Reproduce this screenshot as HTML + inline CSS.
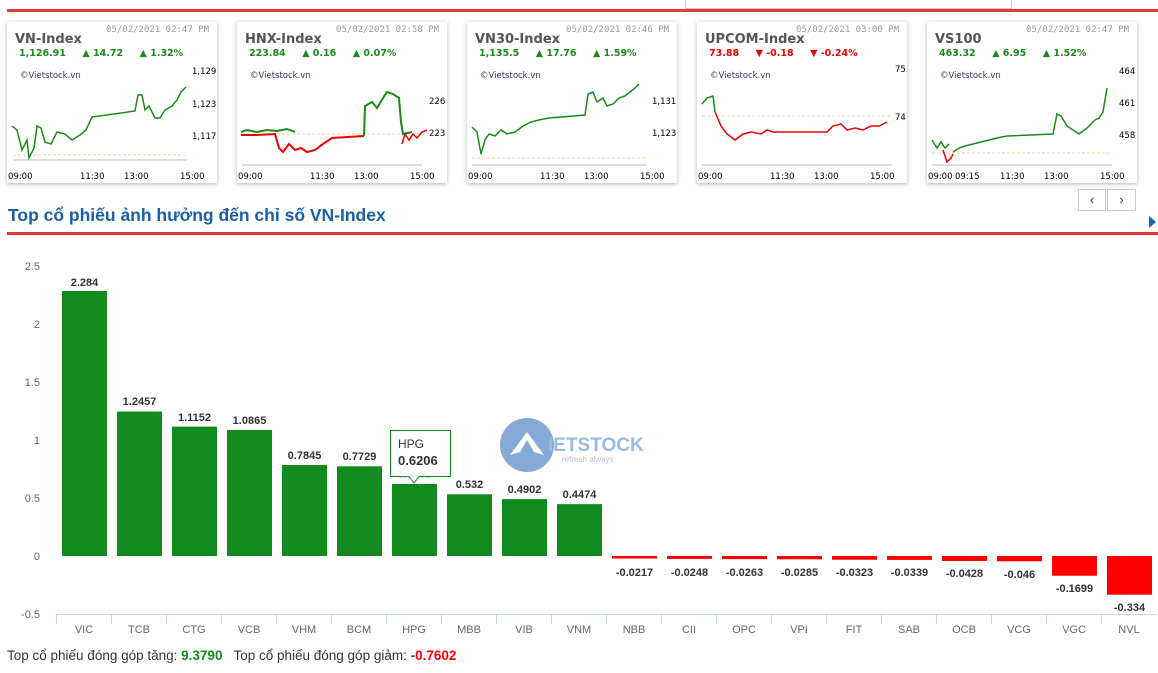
<!DOCTYPE html>
<html><head><meta charset="utf-8"><style>
body{margin:0;width:1158px;height:673px;overflow:hidden;background:#fff;font-family:"Liberation Sans",sans-serif;position:relative}
.card{position:absolute;top:22px;width:210px;height:161px;background:#fff;box-shadow:0 1px 4px rgba(0,0,0,.3)}
.card .d{position:absolute;right:8px;top:3px;font-family:"DejaVu Sans Mono","Liberation Mono",monospace;font-size:9px;color:#999}
.card .t{position:absolute;left:8px;top:10px;font-family:"DejaVu Sans",sans-serif;font-weight:bold;font-size:13px;color:#555}
.card .v{position:absolute;left:12px;top:26px;font-family:"DejaVu Sans",sans-serif;font-weight:bold;font-size:9.5px;color:#1a8a1a;white-space:pre}
.card .v.r{color:#e00}
.card svg{position:absolute;left:0;top:0}
</style></head><body>
<div style="position:absolute;left:7px;top:9px;width:1151px;height:3px;background:#e53935"></div>
<div style="position:absolute;left:685px;top:0;width:325px;height:8px;border:1px solid #ccc;border-top:none"></div>

<div class="card" style="left:7px"><div class="d">05/02/2021 02:47 PM</div><div class="t">VN-Index</div><div class="v">1,126.91     ▲ 14.72     ▲ 1.32%</div>
<svg width="210" height="161" font-family="DejaVu Sans" font-size="8.5"><text x="13" y="56" fill="#336">©Vietstock.vn</text>
<line x1="6" y1="138" x2="180" y2="138" stroke="#bbb"/><line x1="6" y1="138" x2="178" y2="138" stroke="#fc9" stroke-dasharray="3,2" transform="translate(0,-5)"/>
<polyline fill="none" stroke="#1a8a1a" stroke-width="1.5" points="5,104 10,108 15,128 20,118 22,136 27,126 30,104 34,106 38,120 44,122 50,110 58,112 65,118 73,113 79,108 85,95 128,89 131,73 135,73 138,88 142,84 148,96 153,96 158,88 165,84 170,78 174,70 179,65"/>
<text x="185" y="52">1,129</text><text x="185" y="85">1,123</text><text x="185" y="117">1,117</text>
<text x="1" y="157">09:00</text><text x="73" y="157">11:30</text><text x="117" y="157">13:00</text><text x="173" y="157">15:00</text></svg></div>

<div class="card" style="left:237px"><div class="d">05/02/2021 02:58 PM</div><div class="t">HNX-Index</div><div class="v">223.84     ▲ 0.16     ▲ 0.07%</div>
<svg width="210" height="161" font-family="DejaVu Sans" font-size="8.5"><text x="13" y="56" fill="#336">©Vietstock.vn</text>
<line x1="5" y1="143" x2="185" y2="143" stroke="#bbb"/><line x1="5" y1="112" x2="185" y2="112" stroke="#fc9" stroke-dasharray="3,2"/>
<polyline fill="none" stroke="#1a8a1a" stroke-width="2" points="4,110 10,108 20,110 30,108 40,109 50,107 58,110"/>
<polyline fill="none" stroke="#e00" stroke-width="2" points="4,113 20,113 38,112 42,126 46,130 52,122 58,128 64,126 70,130 78,128 86,122 92,118 95,116 127,114"/>
<polyline fill="none" stroke="#1a8a1a" stroke-width="2" points="127,114 128,84 135,80 140,86 146,76 150,70 156,72 162,76 164,100 166,112 175,110"/>
<polyline fill="none" stroke="#e00" stroke-width="1.5" points="165,122 168,112 172,118 176,112 180,116 185,110 190,108"/>
<text x="192" y="82">226</text><text x="192" y="114">223</text>
<text x="1" y="157">09:00</text><text x="73" y="157">11:30</text><text x="117" y="157">13:00</text><text x="173" y="157">15:00</text></svg></div>

<div class="card" style="left:467px"><div class="d">05/02/2021 02:46 PM</div><div class="t">VN30-Index</div><div class="v">1,135.5     ▲ 17.76     ▲ 1.59%</div>
<svg width="210" height="161" font-family="DejaVu Sans" font-size="8.5"><text x="13" y="56" fill="#336">©Vietstock.vn</text>
<line x1="5" y1="143" x2="180" y2="143" stroke="#bbb"/><line x1="5" y1="136" x2="178" y2="136" stroke="#fc9" stroke-dasharray="3,2"/>
<polyline fill="none" stroke="#1a8a1a" stroke-width="1.5" points="5,105 10,110 14,132 18,118 22,112 28,114 34,108 40,112 48,110 56,104 64,100 72,98 82,96 118,93 121,72 126,70 130,80 136,76 140,84 146,82 152,76 158,74 163,70 168,66 172,62"/>
<text x="185" y="82">1,131</text><text x="185" y="114">1,123</text>
<text x="1" y="157">09:00</text><text x="73" y="157">11:30</text><text x="117" y="157">13:00</text><text x="173" y="157">15:00</text></svg></div>

<div class="card" style="left:697px"><div class="d">05/02/2021 03:00 PM</div><div class="t">UPCOM-Index</div><div class="v r">73.88     ▼ -0.18     ▼ -0.24%</div>
<svg width="210" height="161" font-family="DejaVu Sans" font-size="8.5"><text x="13" y="56" fill="#336">©Vietstock.vn</text>
<line x1="5" y1="143" x2="195" y2="143" stroke="#bbb"/><line x1="5" y1="94" x2="195" y2="94" stroke="#fc9" stroke-dasharray="3,2"/>
<polyline fill="none" stroke="#1a8a1a" stroke-width="1.5" points="5,82 10,76 16,74 18,90"/>
<polyline fill="none" stroke="#e00" stroke-width="1.5" points="18,90 24,104 30,112 38,118 46,112 54,110 64,112 70,108 76,110 130,110 136,104 144,102 150,108 158,106 166,108 174,104 182,104 190,100"/>
<text x="198" y="50">75</text><text x="198" y="98">74</text>
<text x="1" y="157">09:00</text><text x="73" y="157">11:30</text><text x="117" y="157">13:00</text><text x="173" y="157">15:00</text></svg></div>

<div class="card" style="left:927px"><div class="d">05/02/2021 02:47 PM</div><div class="t">VS100</div><div class="v">463.32     ▲ 6.95     ▲ 1.52%</div>
<svg width="210" height="161" font-family="DejaVu Sans" font-size="8.5"><text x="13" y="56" fill="#336">©Vietstock.vn</text>
<line x1="5" y1="143" x2="185" y2="143" stroke="#bbb"/><line x1="5" y1="131" x2="182" y2="131" stroke="#fc9" stroke-dasharray="3,2"/>
<polyline fill="none" stroke="#1a8a1a" stroke-width="1.5" points="5,118 10,126 14,120 18,126 22,122"/>
<polyline fill="none" stroke="#e00" stroke-width="1.5" points="16,128 20,140 24,136 26,132"/>
<polyline fill="none" stroke="#1a8a1a" stroke-width="1.5" points="26,130 32,126 38,124 46,122 54,120 62,118 70,116 80,114 126,112 130,92 134,94 140,104 146,108 152,112 160,106 168,98 172,96 176,90 180,66"/>
<text x="192" y="52">464</text><text x="192" y="84">461</text><text x="192" y="116">458</text>
<text x="1" y="157">09:00</text><text x="28" y="157">09:15</text><text x="73" y="157">11:30</text><text x="117" y="157">13:00</text><text x="173" y="157">15:00</text></svg></div>

<div style="position:absolute;left:1078px;top:189px;width:28px;height:22px;border:1px solid #ccc;box-sizing:border-box;text-align:center;line-height:20px;font-size:13px;color:#333">‹</div>
<div style="position:absolute;left:1107px;top:189px;width:29px;height:22px;border:1px solid #ccc;box-sizing:border-box;text-align:center;line-height:20px;font-size:13px;color:#333">›</div>
<div style="position:absolute;left:1149px;top:216px;width:0;height:0;border-top:6px solid transparent;border-bottom:6px solid transparent;border-left:7px solid #1565c0"></div>
<div style="position:absolute;left:8px;top:205px;font-size:17.5px;font-weight:bold;color:#1b5ea8">Top cổ phiếu ảnh hưởng đến chỉ số VN-Index</div>
<div style="position:absolute;left:7px;top:232px;width:1151px;height:3px;background:#e53935"></div>

<svg style="position:absolute;left:0;top:0" width="1158" height="673" font-family="Liberation Sans,sans-serif">
<g fill="#666" font-size="11" text-anchor="end">
<text x="40" y="270">2.5</text><text x="40" y="328">2</text><text x="40" y="386">1.5</text><text x="40" y="444">1</text><text x="40" y="502">0.5</text><text x="40" y="560">0</text><text x="40" y="618">-0.5</text></g>
<line x1="56" y1="614.5" x2="1156" y2="614.5" stroke="#ccd6eb"/>
<g stroke="#ccd6eb">
<line x1="56.5" y1="614" x2="56.5" y2="624"/><line x1="111.5" y1="614" x2="111.5" y2="624"/><line x1="166.5" y1="614" x2="166.5" y2="624"/><line x1="221.5" y1="614" x2="221.5" y2="624"/><line x1="276.5" y1="614" x2="276.5" y2="624"/><line x1="331.5" y1="614" x2="331.5" y2="624"/><line x1="386.5" y1="614" x2="386.5" y2="624"/><line x1="441.5" y1="614" x2="441.5" y2="624"/><line x1="496.5" y1="614" x2="496.5" y2="624"/><line x1="551.5" y1="614" x2="551.5" y2="624"/><line x1="606.5" y1="614" x2="606.5" y2="624"/><line x1="661.5" y1="614" x2="661.5" y2="624"/><line x1="716.5" y1="614" x2="716.5" y2="624"/><line x1="771.5" y1="614" x2="771.5" y2="624"/><line x1="826.5" y1="614" x2="826.5" y2="624"/><line x1="881.5" y1="614" x2="881.5" y2="624"/><line x1="936.5" y1="614" x2="936.5" y2="624"/><line x1="991.5" y1="614" x2="991.5" y2="624"/><line x1="1046.5" y1="614" x2="1046.5" y2="624"/><line x1="1101.5" y1="614" x2="1101.5" y2="624"/></g>
<g fill="#128a1e">
<rect x="62" y="291" width="45" height="265"/><rect x="117" y="411.5" width="45" height="144.5"/><rect x="172" y="426.6" width="45" height="129.4"/><rect x="227" y="430" width="45" height="126"/><rect x="282" y="465" width="45" height="91"/><rect x="337" y="466.3" width="45" height="89.7"/><rect x="392" y="484" width="45" height="72"/><rect x="447" y="494.3" width="45" height="61.7"/><rect x="502" y="499.1" width="45" height="56.9"/><rect x="557" y="504.1" width="45" height="51.9"/></g>
<g fill="#f00">
<rect x="612" y="556" width="45" height="2.5"/><rect x="667" y="556" width="45" height="2.9"/><rect x="722" y="556" width="45" height="3.1"/><rect x="777" y="556" width="45" height="3.3"/><rect x="832" y="556" width="45" height="3.7"/><rect x="887" y="556" width="45" height="3.9"/><rect x="942" y="556" width="45" height="5"/><rect x="997" y="556" width="45" height="5.3"/><rect x="1052" y="556" width="45" height="19.7"/><rect x="1107" y="556" width="45" height="38.7"/></g>
<g font-size="11" font-weight="bold" fill="#333" text-anchor="middle">
<text x="84.5" y="286">2.284</text><text x="139.5" y="405">1.2457</text><text x="194.5" y="421">1.1152</text><text x="249.5" y="424">1.0865</text><text x="304.5" y="459">0.7845</text><text x="359.5" y="460">0.7729</text><text x="414.5" y="478" fill="#ccc">0.6206</text><text x="469.5" y="488">0.532</text><text x="524.5" y="493">0.4902</text><text x="579.5" y="498">0.4474</text>
<text x="634.5" y="576">-0.0217</text><text x="689.5" y="576">-0.0248</text><text x="744.5" y="576">-0.0263</text><text x="799.5" y="576">-0.0285</text><text x="854.5" y="576">-0.0323</text><text x="909.5" y="576">-0.0339</text><text x="964.5" y="577">-0.0428</text><text x="1019.5" y="578">-0.046</text><text x="1074.5" y="592">-0.1699</text><text x="1129.5" y="611">-0.334</text></g>
<g font-size="11" fill="#666" text-anchor="middle">
<text x="84" y="633">VIC</text><text x="139" y="633">TCB</text><text x="194" y="633">CTG</text><text x="249" y="633">VCB</text><text x="304" y="633">VHM</text><text x="359" y="633">BCM</text><text x="414" y="633">HPG</text><text x="469" y="633">MBB</text><text x="524" y="633">VIB</text><text x="579" y="633">VNM</text><text x="634" y="633">NBB</text><text x="689" y="633">CII</text><text x="744" y="633">OPC</text><text x="799" y="633">VPI</text><text x="854" y="633">FIT</text><text x="909" y="633">SAB</text><text x="964" y="633">OCB</text><text x="1019" y="633">VCG</text><text x="1074" y="633">VGC</text><text x="1129" y="633">NVL</text></g>
<g opacity="0.75"><circle cx="527" cy="445" r="27" fill="#5b8fc8"/><path d="M510 455 L527 432 L544 455 L534 452 L527 440 L520 452Z" fill="#fff"/>
<text x="548" y="451" font-size="19" font-weight="bold" fill="#7aa3d6">IETSTOCK</text><text x="562" y="462" font-size="8" fill="#aab">refresh always</text></g>
<path d="M390.5 430.5 H450.5 V476.5 H419 L414 483 L409 476.5 H390.5Z" fill="#fff" fill-opacity="0.9" stroke="#128a1e"/>
<text x="398" y="448" font-size="12" fill="#333">HPG</text><text x="398" y="465" font-size="13" font-weight="bold" fill="#333">0.6206</text>
</svg>
<div style="position:absolute;left:7px;top:648px;font-size:13.5px;color:#333;white-space:pre">Top cổ phiếu đóng góp tăng: <b style="color:#128a1e">9.3790</b>   Top cổ phiếu đóng góp giảm: <b style="color:#f00">-0.7602</b></div>
</body></html>
